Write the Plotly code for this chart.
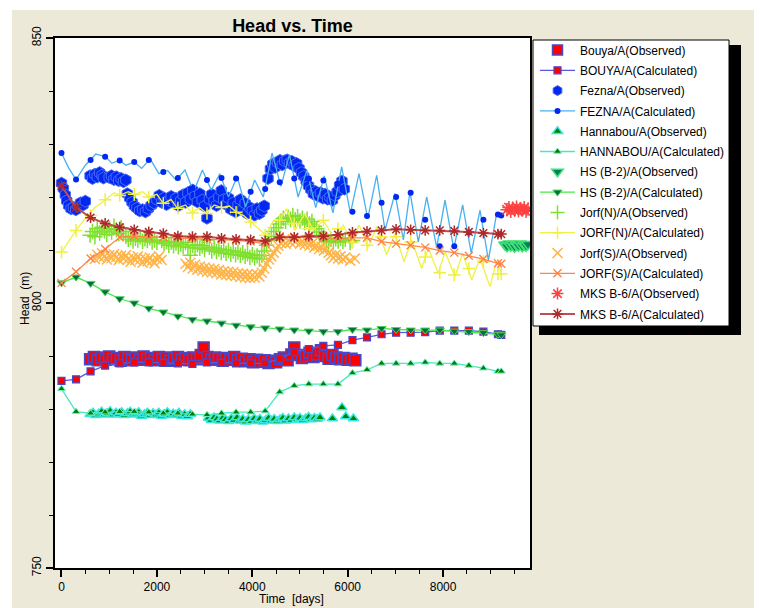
import plotly.graph_objects as go

# ---------------- data ----------------
calc_t = [0, 305, 610, 915, 1220, 1525, 1830, 2135, 2440, 2745, 3050, 3355, 3660, 3965, 4270, 4575,
          4880, 5185, 5490, 5795, 6100, 6405, 6710, 7015, 7320, 7625, 7930, 8235, 8540, 8845, 9150, 9220]

bouya_calc_h = [785.3, 785.6, 787.1, 788.2, 788.6, 788.8, 788.8, 788.7, 788.6, 788.5, 788.8, 788.7, 788.6, 788.6, 788.6, 789.5,
                790.8, 791.3, 791.9, 792.1, 793.0, 793.5, 794.1, 794.4, 794.4, 794.5, 794.8, 794.8, 794.8, 794.6, 794.1, 794.0]
hanna_calc_h = [783.8, 779.5, 779.2, 779.4, 779.5, 779.5, 779.4, 779.2, 779.2, 779.0, 778.9, 779.2, 779.4, 779.4, 779.6, 783.2,
                784.4, 784.7, 784.7, 784.7, 786.8, 787.4, 788.6, 788.6, 788.6, 788.8, 788.6, 788.6, 788.2, 787.7, 787.1, 787.1]
hs_calc_h = [803.8, 804.9, 803.7, 802.1, 800.8, 800.0, 799.0, 798.3, 797.5, 796.9, 796.6, 796.2, 795.8, 795.5, 795.3, 795.1,
             794.9, 794.7, 794.6, 794.6, 795.0, 794.9, 795.2, 795.0, 794.9, 794.9, 794.9, 794.7, 794.6, 794.4, 794.1, 794.0]
mks_calc_h = [822.1, 818.0, 816.1, 815.0, 814.3, 813.8, 813.4, 813.1, 812.6, 812.5, 812.5, 812.2, 812.0, 811.9, 811.7, 812.4,
              812.4, 812.6, 812.6, 812.9, 813.3, 813.5, 813.7, 813.9, 813.8, 813.7, 813.7, 813.6, 813.4, 813.2, 813.0, 813.0]
jorfs_calc_h = [803.8, 805.9, 808.4, 810.2, 812.4, 812.6, 812.5, 812.4, 812.3, 812.2, 812.1, 812.0, 811.8, 811.6, 811.2, 812.6,
                812.5, 812.3, 812.3, 812.2, 812.3, 812.3, 811.6, 811.2, 810.9, 810.5, 809.9, 809.5, 808.9, 808.3, 807.5, 807.4]
fezna_mark_h = [828.3, 823.3, 827.0, 827.6, 826.9, 826.6, 827.0, 824.7, 823.6, 821.6, 823.2, 823.6, 823.5, 821.0, 821.5, 822.8,
                823.5, 823.5, 823.1, 822.5, 817.2, 816.4, 818.9, 820.0, 820.8, 815.7, 810.7, 810.7, 813.3, 815.7, 816.7, 816.5]
jorfn_mark_h = [809.6, 813.7, 816.5, 819.5, 820.3, 820.5, 820.0, 818.8, 817.9, 817.0, 816.9, 818.0, 817.1, 815.3, 812.8, 815.6,
                815.0, 814.0, 815.6, 814.0, 811.5, 810.9, 812.5, 812.5, 811.5, 808.7, 805.7, 805.3, 806.5, 807.8, 805.5, 805.5]

fezna_line = [(0, 828.3), (150, 825.5), (305, 823.3), (500, 826.0), (720, 828.1), (926, 827.6), (1053, 826.4), (1224, 826.9),
              (1350, 826.0), (1527, 826.6), (1680, 825.4), (1859, 827.2), (2040, 824.4), (2224, 825.0), (2400, 823.2),
              (2589, 825.1), (2770, 821.0), (2954, 825.1), (3140, 821.3), (3319, 824.4), (3500, 820.0), (3684, 823.8),
              (3860, 818.1), (4049, 823.2), (4230, 820.0), (4414, 828.3), (4600, 822.0), (4779, 828.0), (4960, 820.0),
              (5144, 825.0), (5330, 818.0), (5509, 824.0), (5690, 817.0), (5874, 825.7), (6057, 816.9), (6237, 824.4),
              (6420, 815.9), (6608, 824.1), (6783, 813.7), (6992, 820.7), (7167, 811.9), (7306, 821.0), (7480, 811.5),
              (7656, 820.0), (7866, 810.5), (8040, 819.4), (8225, 810.2), (8410, 818.5), (8590, 809.4), (8774, 817.5),
              (8950, 808.1), (9123, 816.9), (9220, 816.5)]
jorfn_line = [(0, 809.6), (305, 813.7), (500, 816.0), (700, 818.0), (926, 819.5), (1100, 820.8), (1224, 820.3), (1400, 821.0),
              (1527, 820.5), (1700, 821.0), (1834, 820.0), (2000, 820.5), (2134, 818.8), (2300, 819.5), (2428, 817.9),
              (2600, 818.5), (2729, 817.0), (2900, 818.0), (3043, 816.9), (3200, 818.5), (3358, 818.0), (3520, 818.3),
              (3672, 817.1), (3820, 816.5), (3973, 815.3), (4130, 814.0), (4288, 812.8), (4440, 815.5), (4581, 815.6),
              (4721, 817.8), (4895, 813.7), (5105, 816.9), (5280, 813.7), (5490, 815.6), (5699, 812.5), (5909, 814.7),
              (6083, 811.2), (6237, 814.7), (6433, 810.6), (6608, 814.4), (6817, 809.1), (6992, 813.1), (7181, 807.8),
              (7341, 811.9), (7551, 806.5), (7691, 810.3), (7900, 805.6), (8040, 809.7), (8250, 805.0), (8410, 809.4),
              (8599, 804.4), (8774, 808.4), (8983, 803.1), (9123, 807.8), (9228, 805.5)]

bouya_obs = [(600, 789.4), (680, 789.8), (760, 789.2), (840, 789.7), (920, 789.3), (1000, 789.9), (1080, 789.4), (1160, 789.6),
             (1240, 789.1), (1320, 789.8), (1400, 789.5), (1480, 789.2), (1560, 789.7), (1640, 789.3), (1720, 789.9),
             (1800, 789.4), (1880, 789.6), (1960, 789.2), (2040, 789.8), (2120, 789.4), (2200, 789.7), (2280, 789.1),
             (2360, 789.5), (2440, 789.8), (2520, 789.3), (2600, 789.6), (2680, 789.2), (2760, 789.7), (2840, 789.4),
             (2920, 790.2), (2980, 791.6), (3060, 789.8), (3140, 789.3), (3220, 789.7), (3300, 789.5), (3380, 789.1),
             (3460, 789.6), (3540, 789.3), (3620, 789.8), (3700, 789.2), (3780, 789.5), (3860, 789.0), (3940, 789.4),
             (4020, 788.8), (4100, 789.3), (4180, 788.9), (4260, 789.2), (4340, 788.7), (4420, 789.1), (4500, 788.8),
             (4580, 789.4), (4660, 789.7), (4740, 789.2), (4820, 790.3), (4880, 791.6), (4960, 790.2), (5040, 789.6),
             (5120, 790.0), (5200, 790.6), (5280, 789.8), (5360, 790.3), (5440, 791.1), (5520, 790.0), (5600, 789.5),
             (5680, 790.2), (5760, 789.7), (5840, 789.4), (5920, 789.6), (6000, 789.3), (6080, 789.5), (6160, 789.2)]

hanna_obs = [(600, 779.0), (660, 779.3), (720, 778.8), (780, 779.1), (840, 779.5), (900, 778.9), (960, 779.2), (1020, 779.6),
             (1080, 778.9), (1140, 779.3), (1200, 779.0), (1260, 779.4), (1320, 778.8), (1380, 779.2), (1440, 779.5),
             (1500, 778.9), (1560, 779.1), (1620, 779.4), (1680, 778.7), (1740, 779.0), (1800, 779.3), (1860, 778.8),
             (1920, 779.2), (1980, 778.9), (2040, 779.3), (2100, 778.7), (2160, 779.0), (2220, 779.4), (2280, 778.8),
             (2340, 779.1), (2400, 778.9), (2460, 779.3), (2520, 778.7), (2580, 779.0), (2640, 778.6), (2700, 779.0),
             (3080, 778.3), (3140, 777.9), (3200, 778.4), (3260, 778.1), (3320, 777.8), (3380, 778.3), (3440, 778.0),
             (3500, 777.7), (3560, 778.2), (3620, 777.9), (3680, 778.4), (3740, 777.8), (3800, 778.1), (3860, 777.6),
             (3920, 778.0), (3980, 777.7), (4040, 778.2), (4100, 777.8), (4160, 778.1), (4220, 777.6), (4280, 777.9),
             (4340, 778.3), (4400, 777.8), (4460, 778.1), (4520, 777.7), (4580, 778.0), (4640, 778.3), (4700, 777.8),
             (4760, 778.2), (4820, 777.9), (4880, 778.4), (4940, 778.0), (5000, 778.3), (5060, 777.9), (5120, 778.2),
             (5180, 778.5), (5240, 778.0), (5300, 778.3), (5360, 778.1), (5420, 778.4),
             (5680, 778.2), (5880, 780.3), (5960, 778.6), (6120, 778.2)]

hs_obs = [(9300, 811.0), (9340, 810.7), (9380, 811.2), (9420, 810.8), (9460, 811.1), (9500, 810.6), (9540, 811.0),
          (9580, 810.8), (9620, 811.2), (9660, 810.7), (9700, 811.0), (9740, 810.8), (9780, 811.1)]

mks_obs = [(9340, 817.6), (9380, 818.0), (9420, 817.3), (9460, 817.9), (9500, 817.5), (9540, 818.1), (9580, 817.4),
           (9620, 817.8), (9660, 817.5), (9700, 818.0), (9740, 817.3), (9780, 817.7)]

fezna_obs = [(0, 822.6), (40, 821.6), (80, 820.4), (110, 819.3), (150, 818.4), (200, 817.8), (250, 818.0), (300, 817.6),
             (350, 818.3), (400, 818.9), (450, 818.5), (500, 819.2),
             (600, 824.0), (650, 823.5), (700, 824.3), (750, 823.8), (800, 824.6), (850, 824.1), (880, 823.6),
             (1000, 823.7), (1050, 824.0), (1100, 823.3), (1150, 823.8), (1200, 823.1), (1250, 823.5), (1300, 822.9),
             (1350, 823.2),
             (1380, 820.6), (1430, 819.8), (1480, 819.0), (1530, 818.3), (1580, 817.9), (1640, 817.4), (1700, 817.6),
             (1760, 817.2), (1820, 817.8), (1880, 818.4), (1940, 818.9),
             (2000, 819.5), (2050, 820.3), (2100, 819.0), (2150, 819.8), (2200, 818.6), (2250, 819.4), (2300, 820.1),
             (2350, 818.9), (2400, 819.7), (2450, 818.4), (2500, 819.3), (2550, 820.4), (2600, 819.0), (2650, 820.8),
             (2700, 819.6), (2750, 821.3), (2800, 820.2), (2850, 819.1), (2900, 820.6), (2950, 819.4), (3000, 818.3),
             (3050, 816.0), (3100, 819.6), (3150, 820.5), (3200, 819.2), (3250, 818.4), (3300, 820.0), (3350, 821.2),
             (3400, 819.5), (3450, 818.6), (3500, 819.8), (3550, 817.7), (3600, 818.9), (3650, 817.2), (3700, 818.4),
             (3750, 819.5), (3800, 817.6), (3850, 818.8), (3900, 816.9), (3950, 818.0), (4000, 817.4), (4050, 816.6),
             (4100, 817.8), (4150, 816.9), (4200, 817.5), (4250, 818.3),
             (4330, 823.5), (4380, 825.3), (4430, 826.2), (4480, 825.6), (4530, 826.5), (4580, 826.9), (4630, 826.1),
             (4680, 826.8), (4730, 827.0), (4780, 826.4), (4830, 826.7), (4880, 825.9), (4930, 826.3), (4980, 825.4),
             (5030, 824.6), (5080, 823.9), (5130, 823.0), (5180, 822.1), (5230, 821.4), (5280, 820.6), (5330, 821.0),
             (5380, 820.2), (5430, 820.8), (5480, 819.8), (5530, 820.5), (5580, 819.6), (5630, 820.0), (5680, 819.4),
             (5730, 820.3), (5780, 821.0), (5830, 822.2), (5880, 823.0), (5930, 821.5)]

jorfn_obs = [(600, 812.8), (650, 813.5), (700, 812.5), (750, 814.0), (800, 813.2), (850, 814.3), (900, 813.6), (950, 812.9),
             (1000, 814.0), (1050, 813.4), (1100, 814.5), (1150, 813.8), (1200, 813.1), (1250, 814.2), (1300, 813.5),
             (1350, 812.6), (1400, 812.0), (1450, 812.4), (1500, 811.7), (1550, 812.2), (1600, 811.9), (1650, 812.5),
             (1700, 811.6), (1750, 812.1), (1800, 811.8), (1850, 812.3), (1900, 811.5), (1950, 811.9), (2000, 811.4),
             (2100, 811.8), (2150, 811.2), (2200, 811.6), (2250, 810.9), (2300, 811.5), (2350, 810.8), (2400, 811.3),
             (2450, 810.6), (2500, 811.1), (2550, 810.7), (2600, 811.4), (2650, 810.5), (2700, 809.0), (2750, 810.9),
             (2800, 810.4), (2850, 811.0), (2900, 810.3), (2950, 810.8), (3000, 810.1), (3050, 811.9), (3100, 810.5),
             (3150, 809.8), (3200, 810.4), (3250, 809.7), (3300, 810.2), (3350, 809.5), (3400, 810.0), (3450, 809.4),
             (3500, 809.9), (3550, 809.2), (3600, 809.8), (3650, 809.1), (3700, 809.6), (3750, 809.0), (3800, 809.5),
             (3850, 808.8), (3900, 809.3), (3950, 808.6), (4000, 809.1), (4050, 808.5), (4100, 808.9), (4150, 808.3),
             (4200, 809.0), (4250, 809.8), (4300, 810.9), (4350, 811.8), (4400, 812.6), (4450, 813.5), (4500, 814.2),
             (4550, 814.9), (4600, 815.5), (4650, 816.0), (4700, 815.4), (4750, 816.2), (4800, 815.8), (4850, 816.5),
             (4900, 815.7), (4950, 816.3), (5000, 815.5), (5050, 816.0), (5100, 815.2), (5150, 815.8), (5200, 814.9),
             (5250, 815.4), (5300, 814.5), (5350, 814.0), (5400, 813.4), (5450, 812.8), (5500, 812.3), (5550, 811.8),
             (5600, 811.5), (5650, 812.0), (5700, 811.4), (5750, 812.1), (5800, 811.7), (5850, 812.2), (5900, 811.6),
             (5950, 812.0), (6050, 811.4), (6100, 811.8)]

jorfs_obs = [(700, 808.3), (750, 809.1), (800, 808.6), (850, 809.4), (900, 808.8), (950, 808.2), (1000, 809.0), (1050, 808.5),
             (1100, 809.2), (1150, 808.7), (1200, 808.1), (1250, 808.9), (1300, 808.4), (1350, 809.0), (1400, 808.3),
             (1450, 807.8), (1500, 808.6), (1550, 808.1), (1600, 808.8), (1650, 808.2), (1700, 807.6), (1750, 808.4),
             (1800, 807.9), (1850, 808.6), (1900, 808.0), (1950, 807.5), (2000, 808.3), (2050, 808.8), (2100, 808.1),
             (2600, 807.4), (2650, 806.8), (2700, 807.6), (2750, 806.5), (2800, 807.2), (2850, 806.3), (2900, 806.9),
             (2950, 806.1), (3000, 806.7), (3050, 805.9), (3100, 806.5), (3150, 805.8), (3200, 806.4), (3250, 805.6),
             (3300, 806.2), (3350, 805.4), (3400, 806.0), (3450, 805.3), (3500, 805.9), (3550, 805.2), (3600, 805.8),
             (3650, 805.1), (3700, 805.6), (3750, 804.9), (3800, 805.5), (3850, 804.8), (3900, 805.4), (3950, 804.7),
             (4000, 805.3), (4050, 804.8), (4100, 805.4), (4150, 805.0), (4200, 805.7), (4250, 806.5), (4300, 807.4),
             (4350, 808.2), (4400, 808.8), (4450, 809.5), (4500, 810.2), (4550, 810.8), (4600, 811.3), (4650, 811.7),
             (4700, 811.2), (4750, 811.8), (4800, 811.4), (4850, 812.0), (4900, 811.5), (4950, 811.9), (5000, 811.2),
             (5050, 811.7), (5100, 811.0), (5150, 811.5), (5200, 810.8), (5250, 811.2), (5300, 810.5), (5350, 810.9),
             (5400, 810.2), (5450, 810.6), (5500, 809.9), (5550, 810.3), (5600, 809.5), (5650, 809.0), (5700, 808.5),
             (5750, 809.1), (5800, 808.4), (5850, 808.8), (5900, 808.2), (5950, 808.6), (6050, 808.0), (6150, 808.4)]

legend_labels = ["Bouya/A(Observed)", "BOUYA/A(Calculated)", "Fezna/A(Observed)", "FEZNA/A(Calculated)",
                 "Hannabou/A(Observed)", "HANNABOU/A(Calculated)", "HS (B-2)/A(Observed)", "HS (B-2)/A(Calculated)",
                 "Jorf(N)/A(Observed)", "JORF(N)/A(Calculated)", "Jorf(S)/A(Observed)", "JORF(S)/A(Calculated)",
                 "MKS B-6/A(Observed)", "MKS B-6/A(Calculated)"]

# ---------------- styles ----------------
STY = {
    "bouya_obs": dict(symbol="square", size=11, color="#FF0000", line=dict(color="#4848C8", width=1.5)),
    "bouya_calc_m": dict(symbol="square", size=7, color="#FF0000", line=dict(color="#4848C8", width=1.2)),
    "bouya_line": dict(color="#5858E0", width=1.3),
    "fezna_obs": dict(symbol="hexagon", size=12, color="#0028F0", line=dict(color="#4868F8", width=1)),
    "fezna_calc_m": dict(symbol="circle", size=6, color="#0028F0", line=dict(width=0)),
    "fezna_line": dict(color="#48B0F0", width=1.3),
    "hanna_obs": dict(symbol="triangle-up", size=9, color="#008000", line=dict(color="#38E8E0", width=1.5)),
    "hanna_calc_m": dict(symbol="triangle-up", size=7, color="#008000", line=dict(color="#70F0C8", width=1)),
    "hanna_line": dict(color="#48E8C0", width=1.3),
    "hs_obs": dict(symbol="triangle-down", size=11, color="#008060", line=dict(color="#40E070", width=1.5)),
    "hs_calc_m": dict(symbol="triangle-down", size=8, color="#007040", line=dict(color="#50D060", width=1)),
    "hs_line": dict(color="#48E848", width=1.3),
    "jorfn_obs": dict(symbol="cross-thin-open", size=11, color="#80E030", line=dict(color="#80E030", width=1.5)),
    "jorfn_calc_m": dict(symbol="cross-thin-open", size=9, color="#F0F040", line=dict(color="#E8E838", width=1.5)),
    "jorfn_line": dict(color="#F0F048", width=1.3),
    "jorfs_obs": dict(symbol="x-thin-open", size=10, color="#FFB448", line=dict(color="#FFB448", width=1.5)),
    "jorfs_calc_m": dict(symbol="x-thin-open", size=8, color="#FF8040", line=dict(color="#FF8040", width=1.3)),
    "jorfs_line": dict(color="#FF8848", width=1.3),
    "mks_obs": dict(symbol="asterisk-open", size=11, color="#FF4040", line=dict(color="#FF4040", width=1.5)),
    "mks_calc_m": dict(symbol="asterisk-open", size=9, color="#B02828", line=dict(color="#B02828", width=1.5)),
    "mks_line": dict(color="#C05050", width=2),
}

fig = go.Figure()


def xs(pairs):
    return [p[0] for p in pairs]


def ys(pairs):
    return [p[1] for p in pairs]


def obs(pairs, key):
    fig.add_trace(go.Scatter(x=xs(pairs), y=ys(pairs), mode="markers", marker=STY[key],
                             showlegend=False, hoverinfo="skip"))


def calc_line(tx, hy, key):
    fig.add_trace(go.Scatter(x=tx, y=hy, mode="lines", line=STY[key], showlegend=False, hoverinfo="skip"))


def calc_marks(tx, hy, key):
    fig.add_trace(go.Scatter(x=tx, y=hy, mode="markers", marker=STY[key], showlegend=False, hoverinfo="skip"))


# drawing order
obs(bouya_obs, "bouya_obs")
calc_line(calc_t, bouya_calc_h, "bouya_line")
calc_marks(calc_t, bouya_calc_h, "bouya_calc_m")
obs(fezna_obs, "fezna_obs")
calc_line(xs(fezna_line), ys(fezna_line), "fezna_line")
calc_marks(calc_t, fezna_mark_h, "fezna_calc_m")
obs(hanna_obs, "hanna_obs")
calc_line(calc_t, hanna_calc_h, "hanna_line")
calc_marks(calc_t, hanna_calc_h, "hanna_calc_m")
obs(hs_obs, "hs_obs")
calc_line(calc_t, hs_calc_h, "hs_line")
calc_marks(calc_t, hs_calc_h, "hs_calc_m")
obs(jorfn_obs, "jorfn_obs")
calc_line(xs(jorfn_line), ys(jorfn_line), "jorfn_line")
calc_marks(calc_t, jorfn_mark_h, "jorfn_calc_m")
obs(jorfs_obs, "jorfs_obs")
calc_line(calc_t, jorfs_calc_h, "jorfs_line")
calc_marks(calc_t, jorfs_calc_h, "jorfs_calc_m")
obs(mks_obs, "mks_obs")
calc_line(calc_t, mks_calc_h, "mks_line")
calc_marks(calc_t, mks_calc_h, "mks_calc_m")

# legend entries (legend only)
leg_keys = [("bouya_obs", None), ("bouya_calc_m", "bouya_line"), ("fezna_obs", None), ("fezna_calc_m", "fezna_line"),
            ("hanna_obs", None), ("hanna_calc_m", "hanna_line"), ("hs_obs", None), ("hs_calc_m", "hs_line"),
            ("jorfn_obs", None), ("jorfn_calc_m", "jorfn_line"), ("jorfs_obs", None), ("jorfs_calc_m", "jorfs_line"),
            ("mks_obs", None), ("mks_calc_m", "mks_line")]
for lab, (mk, ln) in zip(legend_labels, leg_keys):
    m = dict(STY[mk])
    if mk.endswith("_obs"):
        m["size"] = min(m["size"], 10)
    fig.add_trace(go.Scatter(x=[None], y=[None], name=lab, legendgroup=lab,
                             mode="markers" if ln is None else "lines+markers",
                             marker=m, line=STY[ln] if ln else None, hoverinfo="skip"))

FONT = "Liberation Sans, Arial, sans-serif"
L, R, T, B = 55, 230, 38, 40
PW, PH = 760 - L - R, 608 - T - B


def px(xp):
    return (xp - L) / PW


def py(yp):
    return (608 - B - yp) / PH


shapes = [
    # white strips outside the grey panel
    dict(type="rect", xref="paper", yref="paper", x0=px(0), x1=px(760), y0=py(10), y1=py(0),
         fillcolor="white", line=dict(width=0), layer="below"),
    dict(type="rect", xref="paper", yref="paper", x0=px(0), x1=px(12), y0=py(608), y1=py(0),
         fillcolor="white", line=dict(width=0), layer="below"),
    dict(type="rect", xref="paper", yref="paper", x0=px(754), x1=px(760), y0=py(608), y1=py(0),
         fillcolor="white", line=dict(width=0), layer="below"),
    # legend shadow and box
    dict(type="rect", xref="paper", yref="paper", x0=px(539), x1=px(741), y0=py(335), y1=py(45),
         fillcolor="black", line=dict(width=0), layer="below"),
    dict(type="rect", xref="paper", yref="paper", x0=px(533), x1=px(729), y0=py(326), y1=py(40),
         fillcolor="white", line=dict(color="black", width=1), layer="below"),
]

fig.update_layout(
    width=760, height=608,
    margin=dict(l=L, r=R, t=T, b=B, pad=0),
    paper_bgcolor="#ECE9D8", plot_bgcolor="white",
    font=dict(family=FONT, size=12, color="black"),
    title=dict(text="<b>Head vs. Time</b>", font=dict(family=FONT, size=18, color="black"),
               x=px(292.5), xref="paper", xanchor="center", y=1 - 26 / 608, yref="container", yanchor="middle"),
    showlegend=True,
    legend=dict(x=px(535), y=py(35.5), xanchor="left", yanchor="top", bgcolor="rgba(0,0,0,0)",
                borderwidth=0, font=dict(family=FONT, size=12, color="black"),
                traceorder="grouped", tracegroupgap=1.3, itemwidth=35),
    hovermode=False,
    shapes=shapes,
    annotations=[
        dict(text="Head  (m)", xref="paper", yref="paper", x=px(25), y=py(299), textangle=-90,
             showarrow=False, font=dict(family=FONT, size=12, color="black"), xanchor="center", yanchor="middle"),
        dict(text="Time \u00a0[days]", xref="paper", yref="paper", x=px(291), y=py(599),
             showarrow=False, font=dict(family=FONT, size=12, color="black"), xanchor="center", yanchor="middle"),
    ],
)
fig.update_xaxes(range=[-136, 9822], tickvals=[0, 2000, 4000, 6000, 8000], ticks="outside", ticklen=7,
                 tickwidth=1.5, tickcolor="black", showgrid=False, zeroline=False, showline=True, linecolor="black",
                 linewidth=2, mirror=True, tickfont=dict(family=FONT, size=12, color="black"),
                 minor=dict(dtick=500, tick0=0, ticks="outside", ticklen=4, tickcolor="black", tickwidth=1, showgrid=False))
fig.update_yaxes(range=[750, 850], tickvals=[750, 800, 850], tickangle=-90, ticks="outside", ticklen=7,
                 tickwidth=1.5, tickcolor="black", showgrid=False, zeroline=False, showline=True, linecolor="black",
                 linewidth=2, mirror=True, tickfont=dict(family=FONT, size=12, color="black"),
                 minor=dict(dtick=10, tick0=750, ticks="outside", ticklen=4, tickcolor="black", tickwidth=1, showgrid=False))

fig.write_html("out.html")
